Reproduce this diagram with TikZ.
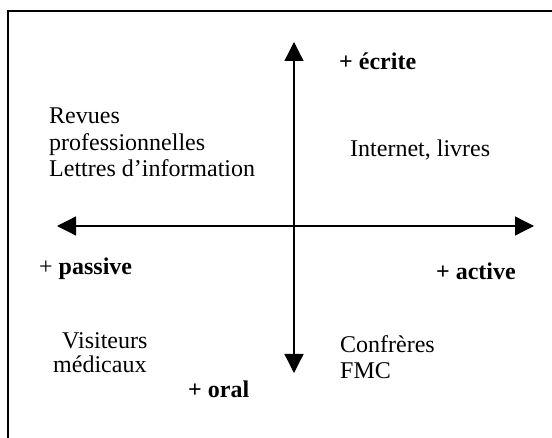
\documentclass[tikz,border=0pt]{standalone}
\usepackage{fontspec}
\setmainfont{Liberation Serif}
\usetikzlibrary{arrows.meta}
\tikzset{
  lbl/.style={inner sep=0pt, font=\fontsize{24}{28}\selectfont},
  blbl/.style={inner sep=0pt, font=\fontsize{24}{28}\selectfont\bfseries},
  axis/.style={line width=1.3pt, {Triangle[length=19pt,width=19pt]}-{Triangle[length=19pt,width=19pt]}},
  frame/.style={line width=2pt}
}
\begin{document}
\begin{tikzpicture}[x=1pt,y=-1pt]
  \useasboundingbox (0,0) rectangle (552,438);
  % open frame: left and top edges
  \coordinate (fb) at (7.5,438);
  \coordinate (fc) at (7.5,11.5);
  \coordinate (fr) at (552,11.5);
  \draw[frame] (fb) -- (fc) -- (fr);
  % axes
  \coordinate (top) at (294,42);
  \coordinate (bot) at (294,373);
  \coordinate (lft) at (57,226);
  \coordinate (rgt) at (534,226);
  \draw[axis] (top) -- (bot);
  \draw[axis] (lft) -- (rgt);
  % pole labels
  \node[blbl, anchor=base west] (ecrite) at (339,70) {+ écrite};
  \node[blbl, anchor=base west] (oral) at (188,398) {+ oral};
  \node[lbl, anchor=base west] (passive) at (39,275) {+ \textbf{passive}};
  \node[blbl, anchor=base east] (active) at (516,280) {+ active};
  % quadrant contents
  \node[lbl, anchor=base west] (rev1) at (49,124) {Revues};
  \node[lbl, anchor=base west] (rev2) at (49,151) {professionnelles};
  \node[lbl, anchor=base west] (rev3) at (49,177) {Lettres d’information};
  \node[lbl, anchor=base west] (inet) at (350,157) {Internet, livres};
  \node[lbl, anchor=base west] (vis1) at (62,349) {Visiteurs};
  \node[lbl, anchor=base west] (vis2) at (53,373) {médicaux};
  \node[lbl, anchor=base west] (conf1) at (340,353) {Confrères};
  \node[lbl, anchor=base west] (conf2) at (340,379) {FMC};
\end{tikzpicture}
\end{document}
